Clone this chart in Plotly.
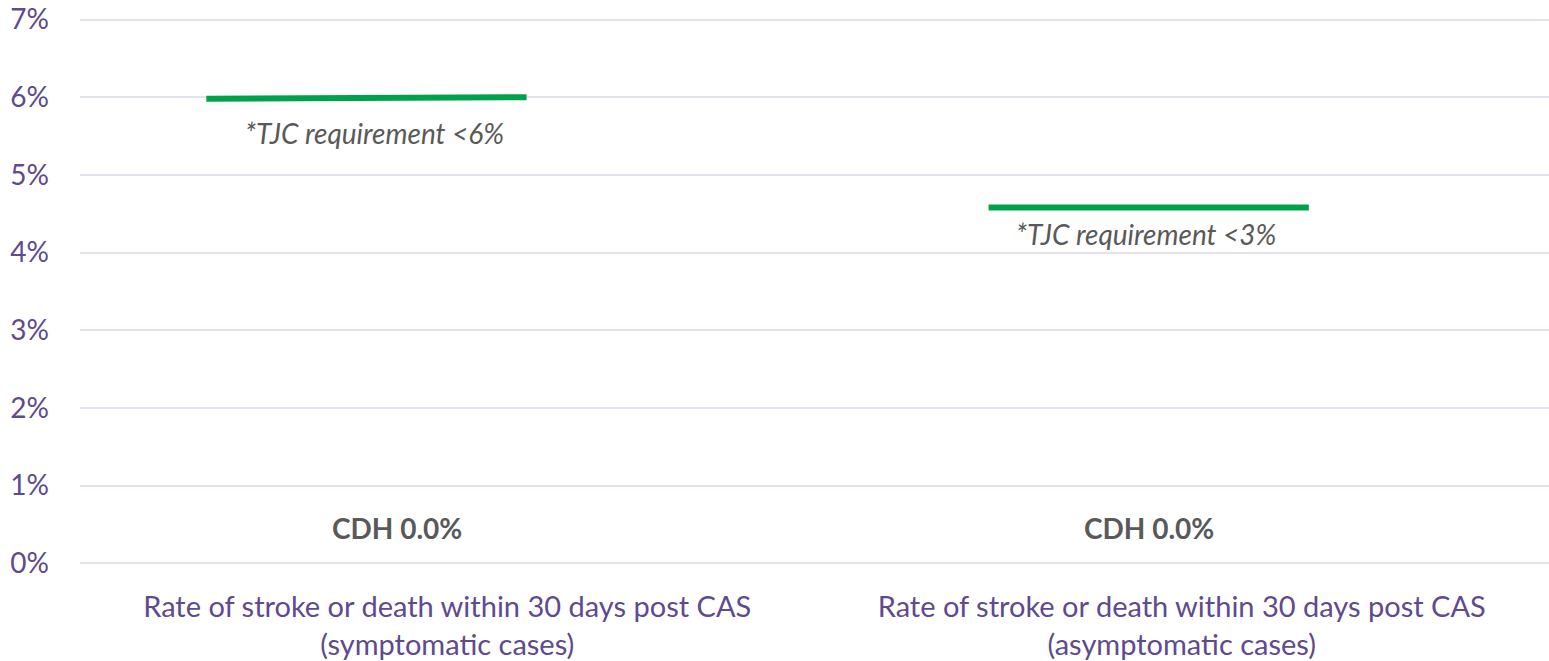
import plotly.graph_objects as go

categories = ["Rate of stroke or death within 30 days post CAS<br>(symptomatic cases)",
              "Rate of stroke or death within 30 days post CAS<br>(asymptomatic cases)"]
cdh_values = [0.0, 0.0]
req_start = [5.98, 4.58]
req_end = [6.0, 4.58]
req_labels = ["*TJC requirement <6%", "*TJC requirement <3%"]
y_ticks = [0, 1, 2, 3, 4, 5, 6, 7]
y_ticktext = [f"{v}%" for v in y_ticks]

PURPLE = "#5E4A8E"
GRAY = "#595959"
GREEN = "#00A14B"
GRID = "#E6E1EF"
FONT = "Lato"

# horizontal extents of the requirement lines relative to the category center
line_offsets = [(-0.328, 0.108), (-0.263, 0.173)]
text_offsets = [-0.099, -0.048]
text_shifts = [-36, -26]
cdh_offsets = [-0.068, -0.045]

fig = go.Figure()
for i in range(len(categories)):
    x0, x1 = i + line_offsets[i][0], i + line_offsets[i][1]
    fig.add_trace(go.Scatter(x=[x0, x1], y=[req_start[i], req_end[i]], mode="lines",
                             line=dict(color=GREEN, width=6), showlegend=False,
                             hoverinfo="skip"))
    fig.add_annotation(x=i + text_offsets[i], y=req_end[i], text=f"<i>{req_labels[i]}</i>",
                       showarrow=False, yshift=text_shifts[i],
                       font=dict(family=FONT, size=28, color=GRAY))
    fig.add_annotation(x=i + cdh_offsets[i], y=cdh_values[i], text=f"<b>CDH {cdh_values[i]:.1f}%</b>",
                       showarrow=False, yshift=35,
                       font=dict(family=FONT, size=28, color=GRAY))

fig.update_layout(
    width=1549, height=661,
    margin=dict(l=80, r=0, t=18, b=91),
    plot_bgcolor="white", paper_bgcolor="white",
    font=dict(family=FONT, color=PURPLE),
    xaxis=dict(range=[-0.5, 1.5], tickvals=[0, 1], ticktext=categories,
               showgrid=False, zeroline=False, showline=False,
               tickfont=dict(size=29, color=PURPLE), ticks="", ticklabelstandoff=19),
    yaxis=dict(range=[-0.06, 7.02], tickvals=y_ticks, ticktext=y_ticktext,
               showgrid=True, gridcolor=GRID, gridwidth=2, zeroline=False,
               showline=False, tickfont=dict(size=28, color=PURPLE),
               ticks="", ticklabelstandoff=30),
)

fig.write_html("out.html", config={"displayModeBar": False},
               post_script="document.body.style.margin='0';")
